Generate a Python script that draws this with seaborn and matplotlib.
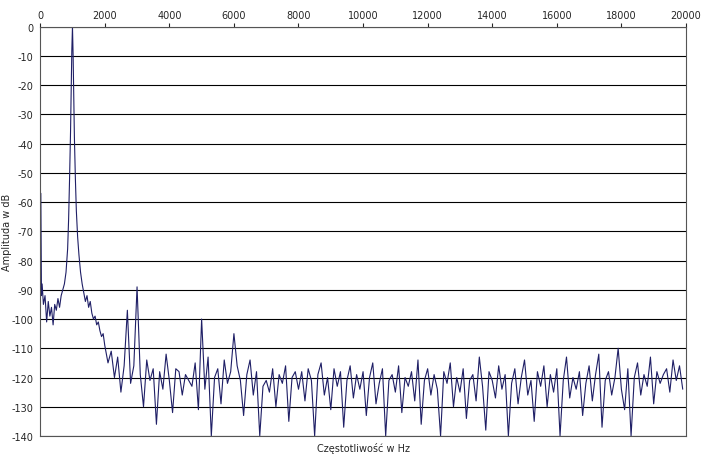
import numpy as np
import seaborn as sns
import matplotlib.pyplot as plt

# -------------------------------------------------
# DATA
# -------------------------------------------------
low_freq = [0, 20, 40, 60, 100, 150, 200, 250, 300, 350, 400, 450, 500, 550,
            600, 650, 700, 750, 800, 850, 880, 910, 940, 960, 980, 1000,
            1020, 1040, 1060, 1090, 1120, 1160, 1200, 1250, 1300, 1350, 1400,
            1450, 1500, 1550, 1600, 1650, 1700, 1750, 1800, 1850, 1900, 1950]
low_db = [-88, -57, -92, -88, -95, -92, -101, -94, -99, -96, -102, -95, -97, -93,
          -96, -92, -90, -88, -84, -76, -66, -52, -36, -22, -8, 0,
          -10, -24, -38, -52, -63, -72, -78, -84, -88, -91, -94,
          -92, -96, -94, -98, -100, -99, -102, -101, -104, -106, -105]

# noise floor, one value every 100 Hz from 2000 Hz
noise_db = [
    -109, -115, -111, -120, -113, -125, -116, -97, -122, -116, -89, -119, -130, -114, -121, -117, -136, -118, -124, -112,
    -121, -132, -117, -118, -126, -119, -121, -123, -115, -131, -100, -124, -113, -140, -120, -117, -129, -114, -122, -118,
    -105, -116, -121, -133, -119, -114, -126, -118, -140, -123, -121, -125, -117, -130, -119, -122, -116, -135, -120, -118,
    -124, -118, -128, -117, -121, -140, -119, -115, -126, -120, -131, -117, -123, -118, -137, -121, -116, -127, -119, -124,
    -118, -133, -120, -115, -129, -122, -117, -140, -121, -119, -125, -116, -132, -120, -123, -118, -128, -114, -136, -121,
    -117, -126, -119, -124, -140, -118, -122, -115, -130, -120, -125, -117, -134, -121, -119, -128, -113, -123, -138, -118,
    -121, -127, -116, -124, -119, -140, -122, -117, -129, -120, -114, -126, -121, -135, -118, -123, -116, -130, -119, -125,
    -117, -140, -121, -113, -127, -120, -124, -118, -133, -122, -116, -128, -119, -112, -137, -121, -118, -126, -120, -110,
    -124, -131, -117, -140, -120, -115, -126, -119, -123, -113, -129, -118, -122, -119, -117, -125, -114, -121, -116, -124,
]
noise_freq = list(range(2000, 2000 + 100 * len(noise_db), 100))

freq = np.array(low_freq + noise_freq)
db = np.array(low_db + noise_db)
mask = freq <= 20000
freq, db = freq[mask], db[mask]

# -------------------------------------------------
# PLOT
# -------------------------------------------------
sns.set_style("white")
plt.rcParams['font.family'] = ['DejaVu Sans']
plt.rcParams['axes.unicode_minus'] = False

fig, ax = plt.subplots(figsize=(7.05, 4.6), dpi=100)
sns.lineplot(x=freq, y=db, ax=ax, color="#1f1f66", linewidth=0.8)

ax.set_xlim(0, 20000)
ax.set_ylim(-140, 0)
ax.set_xticks(range(0, 20001, 2000))
ax.set_yticks(range(-140, 1, 10))
ax.xaxis.tick_top()
ax.tick_params(labelsize=7, length=3, pad=2)
ax.yaxis.grid(True, color="black", linewidth=0.8)
for s in ax.spines.values():
    s.set_color("#555555")
    s.set_linewidth(0.8)

ax.set_xlabel("Częstotliwość w Hz", fontsize=7)
ax.xaxis.set_label_position("bottom")
ax.set_ylabel("Amplituda w dB", fontsize=7)

plt.subplots_adjust(left=0.057, right=0.973, top=0.94, bottom=0.05)
ax.yaxis.set_label_coords(-0.043, 0.5)
plt.savefig("out.png", dpi=100)
